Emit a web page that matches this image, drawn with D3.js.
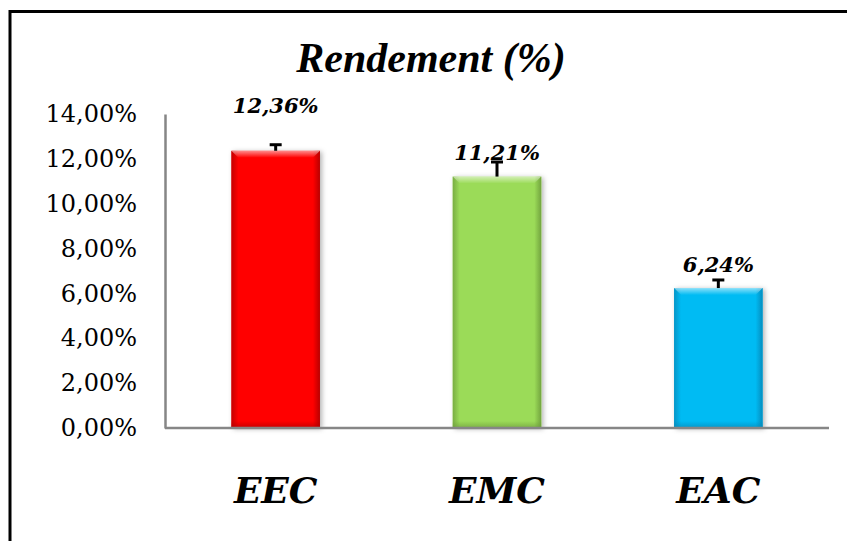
<!DOCTYPE html>
<html>
<head>
<meta charset="utf-8">
<script src="https://cdn.jsdelivr.net/npm/d3@7/dist/d3.min.js"></script>
<style>
  html, body { margin: 0; padding: 0; background: #fff; }
  svg { display: block; }
</style>
</head>
<body>
<svg id="chart" width="847" height="541"></svg>
<script>
// Extraction yield per extract type
const categories = ["EEC", "EMC", "EAC"];
const yieldValues = [12.36, 11.21, 6.24];        // %
const yieldErrors = [0.27, 0.65, 0.36];          // % (upper error bar)
const valueLabels = ["12,36%", "11,21%", "6,24%"];
const tickValues = [0, 2, 4, 6, 8, 10, 12, 14];
const tickLabels = ["0,00%", "2,00%", "4,00%", "6,00%", "8,00%", "10,00%", "12,00%", "14,00%"];
const barColors = ["#FF0000", "#9BDB59", "#00BBF3"];
const edgeColors = ["#B00000", "#6E9E3C", "#0788B8"];

const W = 847, H = 541;
const plot = { left: 165, right: 829, top: 114, bottom: 428 };

const svg = d3.select("#chart");
const defs = svg.append("defs");

// soft shadow under the bars
const shadow = defs.append("filter").attr("id", "barShadow")
  .attr("x", "-20%").attr("y", "-10%").attr("width", "140%").attr("height", "120%");
shadow.append("feDropShadow").attr("dx", 2).attr("dy", 1).attr("stdDeviation", 2.5)
  .attr("flood-color", "#000").attr("flood-opacity", 0.3);

// bevel gradients for each bar colour
categories.forEach((c, i) => {
  const lg = defs.append("linearGradient").attr("id", "edgeL" + i)
    .attr("x1", 0).attr("x2", 1).attr("y1", 0).attr("y2", 0);
  lg.append("stop").attr("offset", 0).attr("stop-color", edgeColors[i]).attr("stop-opacity", 0.75);
  lg.append("stop").attr("offset", 1).attr("stop-color", edgeColors[i]).attr("stop-opacity", 0);
  const rg = defs.append("linearGradient").attr("id", "edgeR" + i)
    .attr("x1", 1).attr("x2", 0).attr("y1", 0).attr("y2", 0);
  rg.append("stop").attr("offset", 0).attr("stop-color", edgeColors[i]).attr("stop-opacity", 0.9);
  rg.append("stop").attr("offset", 1).attr("stop-color", edgeColors[i]).attr("stop-opacity", 0);
  const bg = defs.append("linearGradient").attr("id", "edgeB" + i)
    .attr("x1", 0).attr("x2", 0).attr("y1", 1).attr("y2", 0);
  bg.append("stop").attr("offset", 0).attr("stop-color", edgeColors[i]).attr("stop-opacity", 0.7);
  bg.append("stop").attr("offset", 1).attr("stop-color", edgeColors[i]).attr("stop-opacity", 0);
});
const tg = defs.append("linearGradient").attr("id", "edgeT")
  .attr("x1", 0).attr("x2", 0).attr("y1", 0).attr("y2", 1);
tg.append("stop").attr("offset", 0).attr("stop-color", "#fff").attr("stop-opacity", 0.55);
tg.append("stop").attr("offset", 1).attr("stop-color", "#fff").attr("stop-opacity", 0);

// outer frame
svg.append("rect")
  .attr("x", 10).attr("y", 11.5).attr("width", 1000).attr("height", 800)
  .attr("fill", "none").attr("stroke", "#000").attr("stroke-width", 3);

const x = d3.scaleBand().domain(categories).range([plot.left, plot.right]).paddingInner(0.6).paddingOuter(0.3);
const y = d3.scaleLinear().domain([0, 14]).range([plot.bottom, plot.top]);

// title
svg.append("text")
  .attr("x", 431).attr("y", 72)
  .attr("text-anchor", "middle")
  .attr("font-family", "'Liberation Serif', 'Times New Roman', serif")
  .attr("font-weight", "bold").attr("font-style", "italic")
  .attr("font-size", 42)
  .text("Rendement (%)");

// y axis
const yAxis = d3.axisLeft(y).tickValues(tickValues)
  .tickFormat((d, i) => tickLabels[i]).tickSize(0).tickPadding(28);
const yg = svg.append("g").attr("transform", `translate(${plot.left},0)`).call(yAxis);
yg.select(".domain").attr("stroke", "#868686").attr("stroke-width", 2.5);
yg.selectAll("text")
  .attr("font-family", "'DejaVu Serif', serif")
  .attr("font-size", 24).attr("fill", "#000");

// bars
const bars = svg.append("g");
categories.forEach((c, i) => {
  const bx = x(c), bw = x.bandwidth();
  const by = y(yieldValues[i]), bh = y(0) - by;
  const g = bars.append("g");
  g.append("rect").attr("x", bx).attr("y", by).attr("width", bw).attr("height", bh)
    .attr("fill", barColors[i]).attr("filter", "url(#barShadow)");
  const e = 7;
  g.append("rect").attr("x", bx).attr("y", by).attr("width", e).attr("height", bh).attr("fill", `url(#edgeL${i})`);
  g.append("rect").attr("x", bx + bw - e).attr("y", by).attr("width", e).attr("height", bh).attr("fill", `url(#edgeR${i})`);
  g.append("rect").attr("x", bx).attr("y", by + bh - e).attr("width", bw).attr("height", e).attr("fill", `url(#edgeB${i})`);
  g.append("polygon")
    .attr("points", `${bx},${by} ${bx + bw},${by} ${bx + bw - e},${by + e} ${bx + e},${by + e}`)
    .attr("fill", "url(#edgeT)");
});

// x axis line
svg.append("line")
  .attr("x1", plot.left).attr("x2", plot.right)
  .attr("y1", y(0)).attr("y2", y(0))
  .attr("stroke", "#868686").attr("stroke-width", 2.5);

// error bars (upper)
const err = svg.append("g").attr("stroke", "#000").attr("stroke-width", 3);
categories.forEach((c, i) => {
  const cx = x(c) + x.bandwidth() / 2;
  const top = y(yieldValues[i] + yieldErrors[i]);
  err.append("line").attr("x1", cx).attr("x2", cx).attr("y1", y(yieldValues[i])).attr("y2", top);
  err.append("line").attr("x1", cx - 6).attr("x2", cx + 6).attr("y1", top).attr("y2", top);
});

// value labels above bars
const labelLift = [38, 17, 16];
categories.forEach((c, i) => {
  svg.append("text")
    .attr("x", x(c) + x.bandwidth() / 2)
    .attr("y", y(yieldValues[i]) - labelLift[i])
    .attr("text-anchor", "middle")
    .attr("font-family", "'DejaVu Serif', serif")
    .attr("font-weight", "bold").attr("font-style", "italic")
    .attr("font-size", 21)
    .text(valueLabels[i]);
});

// category labels
categories.forEach(c => {
  svg.append("text")
    .attr("x", x(c) + x.bandwidth() / 2)
    .attr("y", 503)
    .attr("text-anchor", "middle")
    .attr("font-family", "'DejaVu Serif', serif")
    .attr("font-weight", "bold").attr("font-style", "italic")
    .attr("font-size", 36)
    .text(c);
});
</script>
</body>
</html>
